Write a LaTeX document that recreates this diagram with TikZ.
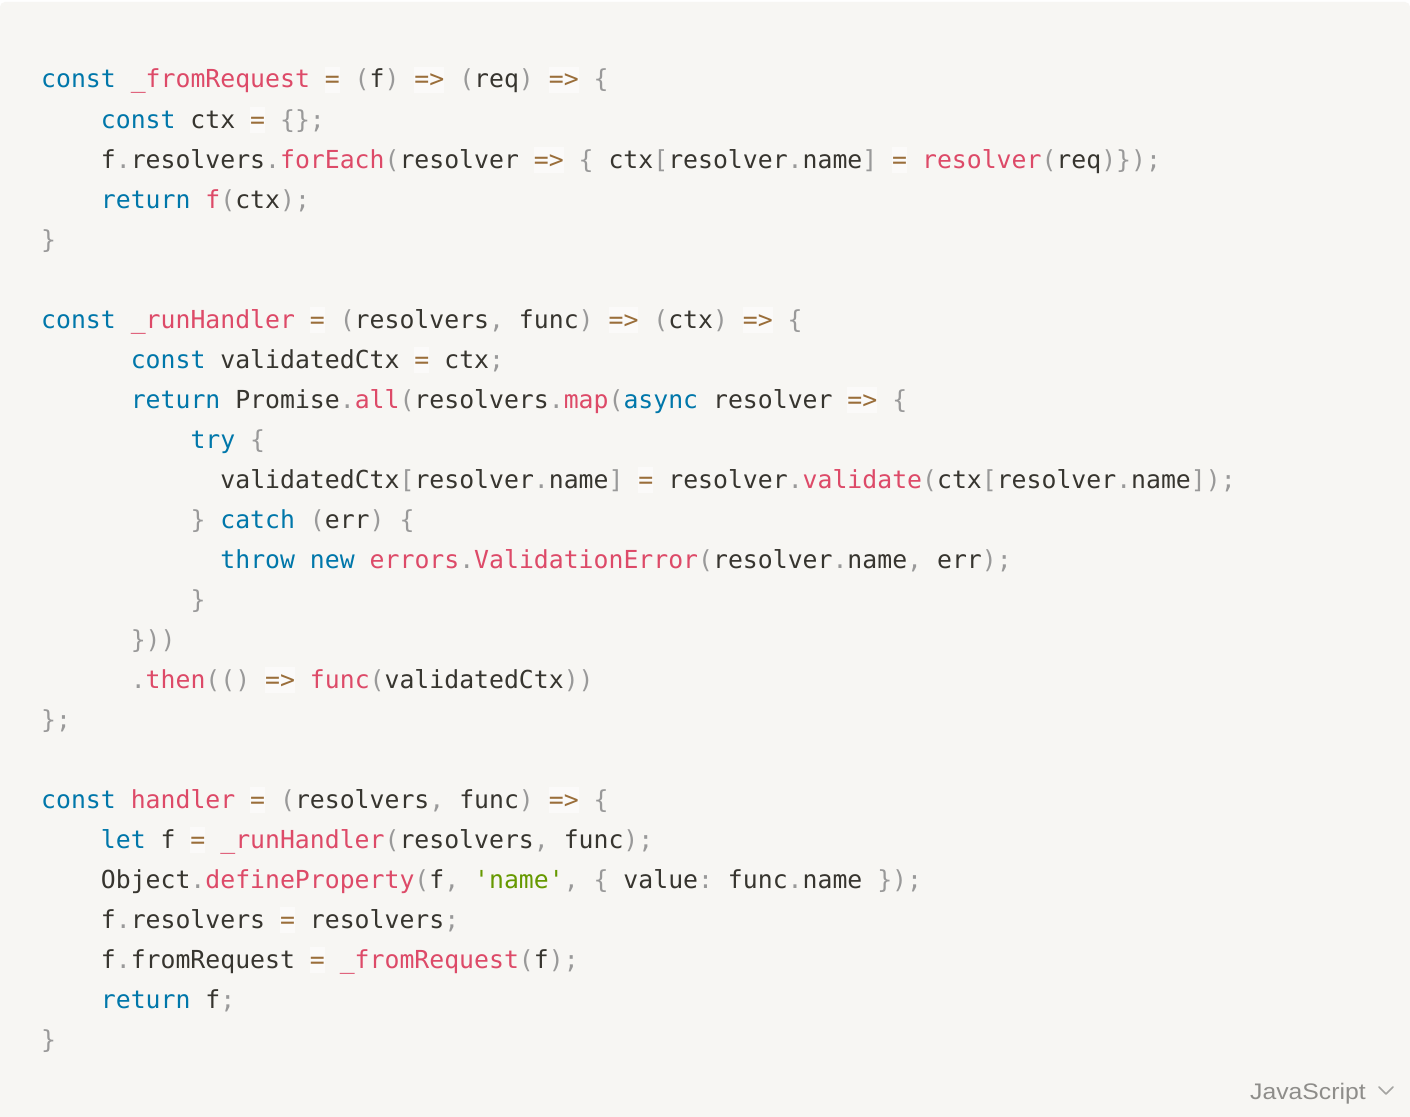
\documentclass[tikz,border=0pt]{standalone}
\usepackage{fontspec}
\newfontfamily\codefont{DejaVu Sans Mono}
\newfontfamily\uifont{Liberation Sans}
\frenchspacing
\definecolor{bgc}{HTML}{F7F6F3}
\definecolor{kwc}{HTML}{0077AA}
\definecolor{fnc}{HTML}{DD4A68}
\definecolor{opc}{HTML}{9A6E3A}
\definecolor{puc}{HTML}{999999}
\definecolor{stc}{HTML}{669900}
\definecolor{txc}{HTML}{37352F}
\definecolor{opbg}{HTML}{FBFAF9}
\definecolor{langc}{HTML}{8E8D8A}
\newcommand{\ckw}[1]{\textcolor{kwc}{#1}}
\newcommand{\cfn}[1]{\textcolor{fnc}{#1}}
\newcommand{\cpu}[1]{\textcolor{puc}{#1}}
\newcommand{\cst}[1]{\textcolor{stc}{#1}}
\newcommand{\cop}[1]{{\setlength{\fboxsep}{0pt}\colorbox{opbg}{\vrule height 21pt depth 5pt width 0pt\textcolor{opc}{#1}}}}
\tikzset{
  codeline/.style={anchor=base west, inner sep=0pt, text=txc,
    font=\codefont\fontsize{24.8}{40}\selectfont\frenchspacing},
  langlabel/.style={anchor=base west, inner sep=0pt, text=langc,
    font=\uifont\fontsize{22.5}{27}\selectfont}
}
\begin{document}
\begin{tikzpicture}[x=1pt,y=-1pt]
\useasboundingbox (0,0) rectangle (1410,1116);
\fill[white] (0,0) rectangle (1410,1116);
\fill[bgc, rounded corners=5pt] (0,2) rectangle (1410,1140);
% line i baseline = 88 + 40 i ; column width 14.93
\node[codeline] (l0) at (41,88) {\ckw{const} \cfn{\_fromRequest} \cop{=} \cpu{(}f\cpu{)} \cop{=>} \cpu{(}req\cpu{)} \cop{=>} \cpu{\{}};
\node[codeline] (l1) at (100.7,128) {\ckw{const} ctx \cop{=} \cpu{\{\};}};
\node[codeline] (l2) at (100.7,168) {f\cpu{.}resolvers\cpu{.}\cfn{forEach}\cpu{(}resolver \cop{=>} \cpu{\{} ctx\cpu{[}resolver\cpu{.}name\cpu{]} \cop{=} \cfn{resolver}\cpu{(}req\cpu{)\});}};
\node[codeline] (l3) at (100.7,208) {\ckw{return} \cfn{f}\cpu{(}ctx\cpu{);}};
\node[codeline] (l4) at (41,248) {\cpu{\}}};
\node[codeline] (l6) at (41,328) {\ckw{const} \cfn{\_runHandler} \cop{=} \cpu{(}resolvers\cpu{,} func\cpu{)} \cop{=>} \cpu{(}ctx\cpu{)} \cop{=>} \cpu{\{}};
\node[codeline] (l7) at (130.6,368) {\ckw{const} validatedCtx \cop{=} ctx\cpu{;}};
\node[codeline] (l8) at (130.6,408) {\ckw{return} Promise\cpu{.}\cfn{all}\cpu{(}resolvers\cpu{.}\cfn{map}\cpu{(}\ckw{async} resolver \cop{=>} \cpu{\{}};
\node[codeline] (l9) at (190.3,448) {\ckw{try} \cpu{\{}};
\node[codeline] (l10) at (220.2,488) {validatedCtx\cpu{[}resolver\cpu{.}name\cpu{]} \cop{=} resolver\cpu{.}\cfn{validate}\cpu{(}ctx\cpu{[}resolver\cpu{.}name\cpu{]);}};
\node[codeline] (l11) at (190.3,528) {\cpu{\}} \ckw{catch} \cpu{(}err\cpu{)} \cpu{\{}};
\node[codeline] (l12) at (220.2,568) {\ckw{throw} \ckw{new} \cfn{errors}\cpu{.}\cfn{ValidationError}\cpu{(}resolver\cpu{.}name\cpu{,} err\cpu{);}};
\node[codeline] (l13) at (190.3,608) {\cpu{\}}};
\node[codeline] (l14) at (130.6,648) {\cpu{\}))}};
\node[codeline] (l15) at (130.6,688) {\cpu{.}\cfn{then}\cpu{(()} \cop{=>} \cfn{func}\cpu{(}validatedCtx\cpu{))}};
\node[codeline] (l16) at (41,728) {\cpu{\};}};
\node[codeline] (l18) at (41,808) {\ckw{const} \cfn{handler} \cop{=} \cpu{(}resolvers\cpu{,} func\cpu{)} \cop{=>} \cpu{\{}};
\node[codeline] (l19) at (100.7,848) {\ckw{let} f \cop{=} \cfn{\_runHandler}\cpu{(}resolvers\cpu{,} func\cpu{);}};
\node[codeline] (l20) at (100.7,888) {Object\cpu{.}\cfn{defineProperty}\cpu{(}f\cpu{,} \cst{'name'}\cpu{,} \cpu{\{} value\cpu{:} func\cpu{.}name \cpu{\});}};
\node[codeline] (l21) at (100.7,928) {f\cpu{.}resolvers \cop{=} resolvers\cpu{;}};
\node[codeline] (l22) at (100.7,968) {f\cpu{.}fromRequest \cop{=} \cfn{\_fromRequest}\cpu{(}f\cpu{);}};
\node[codeline] (l23) at (100.7,1008) {\ckw{return} f\cpu{;}};
\node[codeline] (l24) at (41,1048) {\cpu{\}}};
% language label
\node[langlabel] (lang) at (1250,1099) {\scalebox{1.1}[1]{JavaScript}};
\coordinate (chevL) at (1379,1087);
\coordinate (chevM) at (1386,1094);
\coordinate (chevR) at (1393,1087);
\draw[langc!80!white, line width=1.6pt, line cap=round, line join=round] (chevL) -- (chevM) -- (chevR);
\end{tikzpicture}
\end{document}
